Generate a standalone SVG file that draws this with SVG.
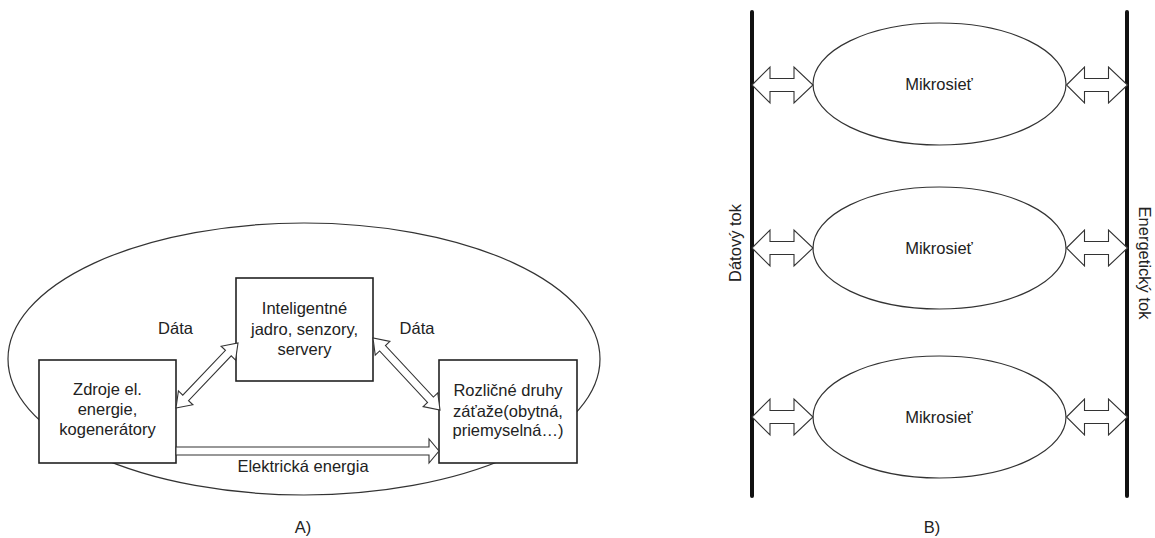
<svg xmlns="http://www.w3.org/2000/svg" width="1155" height="538" viewBox="0 0 1155 538">
<style>
text{font-family:"Liberation Sans",Arial,sans-serif;font-size:16.5px;fill:#222;}
.m{text-anchor:middle;}
.box{fill:#fff;stroke:#222;stroke-width:1.6;}
.ell{fill:none;stroke:#333;stroke-width:1.2;}
.ellw{fill:#fff;stroke:#333;stroke-width:1.2;}
.arr{fill:#fff;stroke:#333;stroke-width:1.1;stroke-linejoin:miter;}
.bar{stroke:#111;stroke-width:4;stroke-linecap:round;}
</style>
<defs>
<path id="dbl" d="M0,0 L18,-18 L18,-6.5 L42,-6.5 L42,-18 L61,0 L42,18 L42,6.5 L18,6.5 L18,18 Z"/>
</defs>
<rect width="1155" height="538" fill="#fff"/>

<!-- Panel A -->
<g id="outer-ellipse"><ellipse class="ell" cx="304" cy="359" rx="296" ry="136"/></g>

<g id="zdroje">
<rect class="box" x="39" y="360" width="137" height="103"/>
<text class="m" x="107.5" y="395">Zdroje el.</text>
<text class="m" x="107.5" y="415">energie,</text>
<text class="m" x="107.5" y="435">kogenerátory</text>
</g>
<g id="jadro">
<rect class="box" x="236" y="278" width="137" height="103"/>
<text class="m" x="304.5" y="314">Inteligentné</text>
<text class="m" x="304.5" y="334.5">jadro, senzory,</text>
<text class="m" x="304.5" y="355">servery</text>
</g>
<g id="zataze">
<rect class="box" x="439" y="360" width="138" height="103"/>
<text class="m" x="508" y="396">Rozličné druhy</text>
<text class="m" x="508" y="416.5">záťaže(obytná,</text>
<text class="m" x="508" y="436">priemyselná…)</text>
</g>

<g id="connectors-a">
<polygon class="arr" points="176,408 192.9,404.77 188.55,400.63 231.23,355.89 235.58,360.03 238,343 221.1,346.23 225.45,350.37 182.77,395.11 178.42,390.97"/>
<polygon class="arr" points="373,338 375.22,355.06 379.61,350.97 427.53,402.48 423.14,406.56 440,410 437.78,392.94 433.39,397.03 385.47,345.53 389.86,341.44"/>
<polygon class="arr" points="176,447 429,447 429,439 439,451 429,463 429,455 176,455"/>
<text class="m" x="175.5" y="334">Dáta</text>
<text class="m" x="417" y="334">Dáta</text>
<text class="m" x="303" y="472">Elektrická energia</text>
</g>
<text class="m" x="303" y="533">A)</text>

<!-- Panel B -->
<g id="flows">
<line class="bar" x1="752" y1="12" x2="752" y2="496"/>
<line class="bar" x1="1127" y1="12" x2="1127" y2="496"/>
<text class="m" transform="translate(741,243) rotate(-90)">Dátový tok</text>
<text class="m" transform="translate(1139,263) rotate(90)">Energetický tok</text>
</g>

<g id="mikrosiet-1">
<ellipse class="ellw" cx="939.5" cy="84" rx="126.5" ry="61"/>
<text class="m" x="939" y="90">Mikrosieť</text>
</g>
<g id="mikrosiet-2">
<ellipse class="ellw" cx="939.5" cy="248" rx="126.5" ry="61"/>
<text class="m" x="939" y="254">Mikrosieť</text>
</g>
<g id="mikrosiet-3">
<ellipse class="ellw" cx="939.5" cy="417" rx="126.5" ry="61"/>
<text class="m" x="939" y="423">Mikrosieť</text>
</g>

<g id="connectors-b">
<use href="#dbl" class="arr" x="752" y="85"/>
<use href="#dbl" class="arr" x="1066.5" y="85"/>
<use href="#dbl" class="arr" x="752" y="248"/>
<use href="#dbl" class="arr" x="1066.5" y="248"/>
<use href="#dbl" class="arr" x="752" y="417"/>
<use href="#dbl" class="arr" x="1066.5" y="417"/>
</g>
<text class="m" x="932" y="533">B)</text>
</svg>
